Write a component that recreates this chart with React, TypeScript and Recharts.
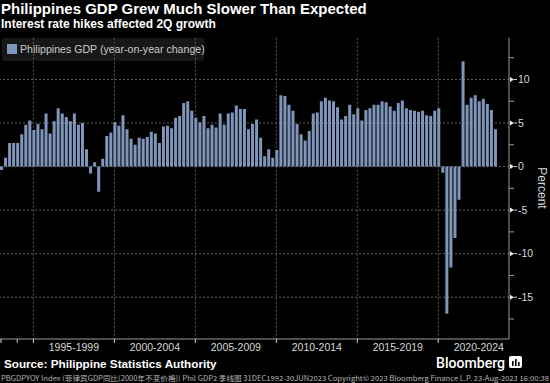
import React from "react";
import { BarChart, Bar, XAxis, YAxis, CartesianGrid } from "recharts";

// quarterly series, first bar is Q4 1992
const firstYear = 1992;
const firstQuarter = 4;

const gdpYoY = [
  -0.4, 1.0, 2.7, 2.7, 2.7, 3.7, 4.8, 5.3, 4.2, 4.9, 4.3, 6.1, 3.8, 5.2, 6.7, 6.1,
  5.7, 5.2, 6.1, 4.8, 5.0, 2.0, -0.8, 0.5, -2.9, 0.9, 3.5, 3.9, 5.1, 4.7, 5.9, 4.3,
  3.2, 2.5, 3.3, 3.2, 3.4, 4.0, 3.8, 2.7, 4.6, 4.7, 4.4, 5.6, 5.8, 7.3, 7.5, 6.4,
  5.6, 5.1, 5.8, 4.4, 4.8, 4.5, 6.1, 4.8, 6.1, 6.2, 7.0, 6.6, 6.6, 4.3, 4.9, 5.4,
  3.3, 1.2, 2.0, 1.0, 1.9, 8.2, 8.1, 7.1, 6.4, 4.9, 3.7, 3.0, 4.1, 6.1, 6.2, 7.5,
  7.9, 7.6, 7.5, 6.8, 5.4, 5.8, 7.1, 6.0, 6.7, 5.3, 6.5, 6.7, 7.1, 7.1, 7.5, 7.4,
  6.9, 6.4, 7.3, 7.6, 6.7, 6.5, 6.4, 6.3, 6.4, 5.9, 5.8, 6.4, 6.7, -0.7, -16.9, -11.6,
  -8.2, -3.8, 12.1, 7.1, 7.9, 8.2, 7.5, 7.8, 7.2, 6.5, 4.3,
];

const periodStarts = [1995, 2000, 2005, 2010, 2015, 2020];
const periodLabels = ["1995-1999", "2000-2004", "2005-2009", "2010-2014", "2015-2019", "2020-2024"];
const extraTickYears = [1992, 1993];

const yMajor = [-15, -10, -5, 0, 5, 10];
const yMinor = [-17.5, -12.5, -7.5, -2.5, 2.5, 7.5, 12.5];
const yDomain: [number, number] = [-19.8, 14.8];

const barColor = "#7f96bc";
const gridColor = "#5e5e5e";
const axisColor = "#9a9a9a";
const textColor = "#d8d8d8";
const font = "'Liberation Sans', Arial, sans-serif";

const data = gdpYoY.map((v, i) => {
  const n = firstQuarter - 1 + i;
  const year = firstYear + Math.floor(n / 4);
  const q = (n % 4) + 1;
  return { quarter: `${year}Q${q}`, gdp: v };
});

// grid sits on the Q4 bar before each period, label in the middle of it
const gridCats = periodStarts.map((y) => `${y - 1}Q4`);
const labelCats = periodStarts.map((y) => `${y + 2}Q2`);
const markCats = [...extraTickYears.map((y) => `${y}Q4`), ...gridCats];
const labelFor: Record<string, string> = {};
labelCats.forEach((c, i) => (labelFor[c] = periodLabels[i]));

const W = 550;
const H = 383;
const PAD_RIGHT = 12;

const XTick = (props: any) => {
  const { x, y, payload } = props;
  const label = labelFor[payload.value];
  if (label) {
    return (
      <text x={x} y={y + 11.5} textAnchor="middle" fill={textColor} fontSize={10.5} fontFamily={font}>
        {label}
      </text>
    );
  }
  return <line x1={x} x2={x} y1={y} y2={y + 4} stroke="#cfcfcf" />;
};

const YTick = (props: any) => {
  const { x, y, payload } = props;
  const v = payload.value;
  if (v % 5 !== 0) {
    return <line x1={x} x2={x + 5} y1={y} y2={y} stroke={axisColor} />;
  }
  return (
    <g>
      <polygon points={`${x + 1},${y - 2.5} ${x + 5},${y} ${x + 1},${y + 2.5}`} fill="#eeeeee" />
      <line x1={x + 5} x2={x + 8} y1={y} y2={y} stroke="#cfcfcf" />
      <text x={x + 9} y={y} dy="0.36em" fill={textColor} fontSize={10.5} fontFamily={font}>
        {v}
      </text>
    </g>
  );
};

const App = () => {
  const n = data.length;
  const idx = (c: string) => data.findIndex((d) => d.quarter === c);

  return (
    <div style={{ position: "absolute", left: 0, top: 0, width: W, height: H, background: "#000", overflow: "hidden", fontFamily: font }}>
      <div style={{ position: "absolute", left: 1, top: 0, color: "#fff", fontSize: 15, fontWeight: 700, lineHeight: "18px", whiteSpace: "nowrap" }}>
        Philippines GDP Grew Much Slower Than Expected
      </div>
      <div style={{ position: "absolute", left: 1, top: 16.5, color: "#fff", fontSize: 12, fontWeight: 700, lineHeight: "14px", whiteSpace: "nowrap" }}>
        Interest rate hikes affected 2Q growth
      </div>

      <div style={{ position: "absolute", left: 2, top: 38, width: 202, height: 23, background: "#171717", borderRadius: 3 }}>
        <div style={{ position: "absolute", left: 5, top: 6, width: 10, height: 10, background: barColor }} />
        <div style={{ position: "absolute", left: 18, top: 4, color: "#cccccc", fontSize: 10.6, lineHeight: "14px", whiteSpace: "nowrap" }}>
          Philippines GDP (year-on-year change)
        </div>
      </div>

      <div style={{ position: "absolute", left: 0, top: 0 }}>
        <BarChart width={W} height={H} data={data} margin={{ top: 37.7, right: 0, bottom: 24, left: -1 }}>
          <CartesianGrid
            stroke={gridColor}
            strokeDasharray="2 2"
            verticalCoordinatesGenerator={({ offset }: any) => {
              const band = (offset.width - PAD_RIGHT) / n;
              return gridCats.map((c) => offset.left + (idx(c) + 0.5) * band);
            }}
            horizontalCoordinatesGenerator={({ offset }: any) =>
              yMajor.map((v) => offset.top + ((yDomain[1] - v) / (yDomain[1] - yDomain[0])) * offset.height)
            }
          />
          <XAxis
            dataKey="quarter"
            height={20}
            padding={{ left: 0, right: PAD_RIGHT }}
            ticks={[...markCats, ...labelCats]}
            interval={0}
            tickSize={0}
            tickMargin={0}
            tickLine={false}
            axisLine={{ stroke: axisColor }}
            tick={<XTick />}
          />
          <YAxis
            orientation="right"
            width={41}
            type="number"
            domain={yDomain}
            allowDataOverflow
            ticks={[...yMajor, ...yMinor].sort((a, b) => a - b)}
            interval={0}
            tickSize={0}
            tickMargin={0}
            tickLine={false}
            axisLine={{ stroke: axisColor }}
            tick={<YTick />}
          />
          <Bar dataKey="gdp" fill={barColor} barSize={3} isAnimationActive={false} />
        </BarChart>
      </div>

      <svg width={W} height={H} style={{ position: "absolute", left: 0, top: 0, pointerEvents: "none" }}>
        <text x={542} y={188} transform="rotate(90, 542, 188)" textAnchor="middle" dy="0.35em" fill={textColor} fontSize={12} fontFamily={font}>
          Percent
        </text>
        <text x={436} y={368} fill="#fff" fontSize={15} fontWeight={500} fontFamily="Roboto, sans-serif" textLength={69} lengthAdjust="spacingAndGlyphs">
          Bloomberg
        </text>
        <rect x={509} y={356} width={13} height={12} rx={2} fill="#fff" />
        <rect x={512} y={361} width={1.6} height={5} fill="#000" />
        <rect x={515} y={359} width={1.6} height={7} fill="#000" />
        <rect x={518} y={362} width={1.6} height={4} fill="#000" />
        <text x={1} y={381} fill="#b8b8b8" fontSize={7} fontFamily="'Noto Sans CJK SC', sans-serif" textLength={548} lengthAdjust="spacingAndGlyphs">
          PBGDPYOY Index (菲律宾GDP同比(2000年不变价格)) Phil GDP2   季线图 31DEC1992-30JUN2023   Copyright© 2023 Bloomberg Finance L.P.   23-Aug-2023 16:00:38
        </text>
      </svg>

      <div style={{ position: "absolute", left: 4, top: 357, color: "#fff", fontSize: 11.7, fontWeight: 700, lineHeight: "14px", whiteSpace: "nowrap" }}>
        Source: Philippine Statistics Authority
      </div>
    </div>
  );
};

export default App;
